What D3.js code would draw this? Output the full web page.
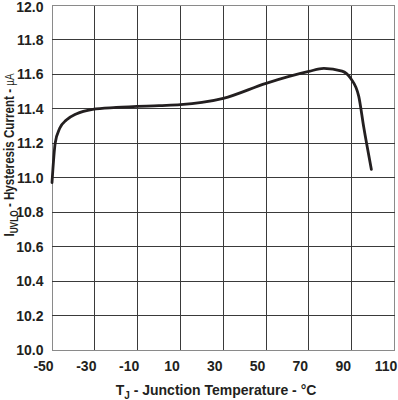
<!DOCTYPE html>
<html>
<head>
<meta charset="utf-8">
<script src="https://cdn.jsdelivr.net/npm/d3@7"></script>
<style>
body { margin: 0; background: #fff; }
text { font-family: "Liberation Sans", Arial, sans-serif; font-weight: bold; fill: #231f20; }
</style>
</head>
<body>
<script>
// avlästa punkter från kurvan
var tempC = [-50, -48.5, -46.4, -43.3, -38.7, -31, -20, 0, 10, 20, 30, 50, 70, 77, 85.5, 89.5, 93.3, 95.6, 99.2];
var currentUA = [10.97, 11.2, 11.285, 11.333, 11.368, 11.395, 11.406, 11.417, 11.422, 11.435, 11.459, 11.546, 11.615, 11.633, 11.617, 11.575, 11.47, 11.294, 11.047];

var xTicks = [-50, -30, -10, 10, 30, 50, 70, 90, 110];
var yTicks = [10.0, 10.2, 10.4, 10.6, 10.8, 11.0, 11.2, 11.4, 11.6, 11.8, 12.0];

var width = 398, height = 400;
// OBS: "top" är upptaget av window.top, därför plotTop osv.
var plotLeft = 52, plotRight = 394.5, plotTop = 5, plotBottom = 350;

var svg = d3.select("body").append("svg")
    .attr("width", width)
    .attr("height", height);

var x = d3.scaleLinear().domain([-50, 110]).range([plotLeft, plotRight]);
var y = d3.scaleLinear().domain([10, 12]).range([plotBottom, plotTop]);

// rutnät
var grid = svg.append("g").attr("shape-rendering", "crispEdges");
grid.selectAll(".vx").data(xTicks).enter()
    .append("line")
    .attr("x1", function (d) { return x(d); })
    .attr("x2", function (d) { return x(d); })
    .attr("y1", plotTop).attr("y2", plotBottom)
    .attr("stroke", function (d, i) { return (i == 0 || i == 8) ? "#8a8a8a" : "#3a3a3a"; });
grid.selectAll(".hy").data(yTicks).enter()
    .append("line")
    .attr("y1", function (d) { return y(d); })
    .attr("y2", function (d) { return y(d); })
    .attr("x1", plotLeft).attr("x2", plotRight)
    .attr("stroke", function (d, i) { return (i == 0 || i == 10) ? "#8a8a8a" : "#3a3a3a"; });

// y-axel etiketter (översta lite nedflyttad så den inte klipps)
svg.append("g").selectAll("text").data(yTicks).enter()
    .append("text")
    .attr("x", 43.5)
    .attr("y", function (d) { return Math.max(y(d) + 5, 11.5); })
    .attr("text-anchor", "end")
    .style("font-size", "14px")
    .text(function (d) { return d3.format(".1f")(d); });

// x-axel etiketter (förskjutna åt vänster som i originalet)
svg.append("g").selectAll("text").data(xTicks).enter()
    .append("text")
    .attr("x", function (d) { return x(d) - 8.5; })
    .attr("y", 371)
    .attr("text-anchor", "middle")
    .style("font-size", "14px")
    .text(function (d) { return d; });

// kurvan
var line = d3.line()
    .x(function (d, i) { return x(tempC[i]); })
    .y(function (d) { return y(d); })
    .curve(d3.curveMonotoneX);

svg.append("path")
    .datum(currentUA)
    .attr("d", line)
    .attr("fill", "none")
    .attr("stroke", "#231f20")
    .attr("stroke-width", 2.8)
    .attr("stroke-linecap", "round")
    .attr("stroke-linejoin", "round");

// x-titel
var xt = svg.append("text")
    .attr("x", 216)
    .attr("y", 394.5)
    .attr("text-anchor", "middle")
    .style("font-size", "14px");
xt.append("tspan").text("T");
xt.append("tspan").attr("dy", 4).style("font-size", "10px").text("J");
xt.append("tspan").attr("dy", -4).text(" - Junction Temperature - °C");

// y-titel
var yt = svg.append("text")
    .attr("transform", "translate(13.5,155) rotate(-90) scale(0.83,1)")
    .attr("text-anchor", "middle")
    .style("font-size", "14px");
yt.append("tspan").text("I");
yt.append("tspan").attr("dy", 4).style("font-size", "10px").text("UVLO");
yt.append("tspan").attr("dy", -4).text(" - Hysteresis Current - ");
yt.append("tspan").style("font-weight", "normal").style("font-size", "12px").text("µA");
</script>
</body>
</html>
